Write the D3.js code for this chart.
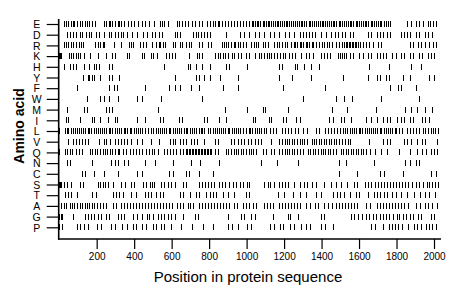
<!DOCTYPE html>
<html>
<head>
<meta charset="utf-8">
<script src="https://cdn.jsdelivr.net/npm/d3@7"></script>
<style>
  html, body { margin: 0; padding: 0; background: #fff; }
  svg { display: block; }
</style>
</head>
<body>
<div id="chart"></div>
<script>
// amino acid rows, top to bottom
const aminoAcids = ["E", "D", "R", "K", "H", "Y", "F", "W", "M", "I", "L", "V", "Q", "N", "C", "S", "T", "A", "G", "P"];
const xTicks = [200, 400, 600, 800, 1000, 1200, 1400, 1600, 1800, 2000];
const seqLength = 2032;

// positions of each residue type in the sequence
const posE = [28, 39, 50, 63, 74, 84, 98, 111, 124, 138, 151, 164, 180, 196, 242, 255, 266, 276, 287, 300, 314, 324, 335, 348, 370, 386, 404, 423, 442, 463, 484, 506, 538, 552, 564, 582, 629, 644, 660, 676, 692, 709, 725, 746, 767, 794, 805, 821, 832, 848, 858, 874, 890, 901, 917, 933, 949, 965, 981, 997, 1013, 1029, 1037, 1048, 1056, 1066, 1075, 1088, 1096, 1104, 1115, 1124, 1135, 1143, 1152, 1163, 1172, 1183, 1190, 1201, 1212, 1220, 1231, 1240, 1251, 1262, 1270, 1282, 1291, 1300, 1311, 1320, 1333, 1342, 1352, 1361, 1372, 1381, 1392, 1404, 1412, 1423, 1433, 1441, 1452, 1463, 1471, 1482, 1494, 1503, 1512, 1523, 1534, 1542, 1553, 1562, 1571, 1584, 1592, 1603, 1612, 1624, 1633, 1641, 1652, 1664, 1673, 1681, 1692, 1703, 1714, 1722, 1735, 1746, 1757, 1768, 1861, 1880, 1904, 1921, 1942, 1970, 1983, 1997, 2015];
const posD = [45, 58, 75, 90, 111, 125, 146, 160, 173, 200, 214, 244, 267, 280, 303, 318, 330, 344, 366, 392, 419, 449, 472, 499, 516, 534, 552, 618, 632, 645, 716, 730, 744, 760, 774, 790, 805, 894, 965, 991, 1018, 1045, 1071, 1098, 1125, 1151, 1178, 1205, 1231, 1258, 1285, 1301, 1317, 1333, 1349, 1370, 1402, 1429, 1455, 1477, 1493, 1514, 1530, 1552, 1573, 1648, 1669, 1696, 1712, 1733, 1754, 1770, 1824, 1840, 1861, 1877, 1904, 1925, 1957, 1973, 1994];
const posR = [27, 39, 52, 65, 76, 90, 106, 119, 129, 196, 210, 223, 235, 244, 294, 335, 374, 386, 398, 436, 452, 468, 499, 520, 533, 543, 555, 568, 609, 623, 645, 657, 680, 694, 707, 751, 766, 796, 814, 869, 882, 895, 906, 919, 933, 943, 957, 970, 983, 997, 1027, 1041, 1054, 1066, 1089, 1102, 1116, 1151, 1164, 1178, 1190, 1205, 1219, 1242, 1253, 1263, 1274, 1285, 1295, 1306, 1317, 1327, 1338, 1349, 1359, 1373, 1391, 1405, 1418, 1432, 1445, 1461, 1481, 1498, 1514, 1525, 1533, 1541, 1549, 1557, 1565, 1573, 1581, 1589, 1597, 1610, 1626, 1642, 1658, 1676, 1703, 1721, 1872, 1890, 1916, 1934, 1957, 1978, 1996, 2014];
const posK = [1, 4, 8, 12, 54, 67, 77, 90, 102, 116, 134, 166, 209, 250, 285, 299, 362, 374, 442, 454, 490, 502, 523, 574, 587, 606, 618, 693, 737, 751, 764, 835, 849, 862, 876, 888, 902, 926, 938, 956, 975, 1000, 1013, 1050, 1069, 1082, 1095, 1109, 1122, 1135, 1149, 1167, 1183, 1197, 1210, 1231, 1247, 1263, 1295, 1317, 1338, 1359, 1402, 1418, 1434, 1450, 1493, 1503, 1514, 1525, 1535, 1552, 1568, 1605, 1626, 1648, 1669, 1696, 1712, 1728, 1749, 1781, 1802, 1824, 1845, 1872, 1893, 1920, 1941, 1968, 1984, 2005];
const posH = [27, 58, 75, 90, 134, 161, 188, 200, 216, 271, 283, 564, 689, 702, 730, 767, 808, 894, 911, 1004, 1178, 1191, 1263, 1274, 1311, 1348, 1388, 1658, 1765, 1880, 1933];
const posY = [132, 154, 164, 178, 191, 223, 271, 287, 324, 623, 730, 751, 778, 810, 863, 956, 1173, 1246, 1348, 1517, 1653, 1696, 1717, 1749, 1765, 1835, 1877, 1976, 2002];
const posF = [95, 266, 296, 313, 463, 591, 618, 647, 707, 751, 876, 956, 1196, 1423, 1770, 1809, 1824, 1904];
const posW = [151, 218, 242, 266, 314, 419, 442, 547, 766, 1301, 1481, 1520, 1565, 1721, 1924];
const posM = [43, 134, 151, 250, 270, 287, 529, 885, 1007, 1089, 1103, 1226, 1459, 1538, 1694, 1848, 1881, 1913, 1952, 1992];
const posI = [38, 51, 111, 177, 190, 222, 263, 299, 311, 416, 459, 538, 559, 641, 658, 778, 794, 853, 894, 1036, 1048, 1121, 1133, 1199, 1214, 1268, 1285, 1445, 1463, 1507, 1520, 1561, 1641, 1669, 1698, 1733, 1752, 1770, 1805, 1826, 1845, 1872, 1891, 1939, 1957, 1978];
const posL = [2, 31, 42, 52, 63, 74, 87, 97, 108, 119, 132, 143, 154, 164, 175, 188, 199, 210, 220, 231, 244, 255, 266, 276, 287, 300, 311, 322, 332, 346, 356, 367, 378, 388, 402, 412, 423, 434, 447, 458, 478, 491, 505, 518, 529, 540, 551, 564, 575, 586, 596, 610, 620, 631, 642, 655, 666, 677, 687, 701, 711, 722, 733, 746, 757, 767, 778, 799, 810, 821, 834, 845, 855, 866, 879, 890, 901, 911, 925, 935, 946, 957, 970, 981, 1002, 1013, 1023, 1034, 1048, 1058, 1069, 1080, 1093, 1104, 1130, 1146, 1162, 1194, 1210, 1226, 1242, 1263, 1279, 1301, 1327, 1375, 1391, 1423, 1439, 1455, 1471, 1487, 1503, 1519, 1530, 1541, 1554, 1565, 1576, 1586, 1600, 1610, 1621, 1632, 1645, 1656, 1666, 1677, 1690, 1701, 1712, 1722, 1736, 1746, 1757, 1768, 1781, 1792, 1802, 1816, 1834, 1856, 1872, 1888, 1904, 1920, 1944, 1957, 1970, 1984, 1997, 2010, 2024];
const posV = [47, 74, 91, 109, 123, 138, 158, 216, 243, 255, 274, 298, 314, 333, 349, 367, 388, 418, 442, 494, 534, 595, 609, 623, 648, 662, 677, 707, 721, 737, 778, 832, 850, 921, 938, 956, 974, 991, 1009, 1027, 1045, 1063, 1082, 1135, 1178, 1191, 1205, 1218, 1231, 1245, 1258, 1271, 1285, 1298, 1311, 1325, 1349, 1362, 1375, 1389, 1402, 1415, 1429, 1442, 1455, 1469, 1482, 1498, 1514, 1530, 1546, 1557, 1658, 1729, 1752, 1770, 1840, 1861, 1882, 1914, 1936, 1957, 2016];
const posQ = [2, 31, 43, 58, 72, 90, 107, 125, 168, 180, 194, 207, 220, 234, 247, 260, 274, 287, 300, 314, 324, 342, 359, 378, 396, 413, 431, 446, 467, 484, 498, 511, 529, 564, 580, 596, 612, 628, 645, 661, 677, 687, 695, 703, 711, 719, 727, 735, 743, 751, 759, 767, 775, 783, 791, 799, 807, 815, 833, 848, 894, 906, 919, 933, 946, 959, 973, 986, 999, 1013, 1026, 1036, 1055, 1089, 1107, 1133, 1151, 1178, 1191, 1205, 1218, 1231, 1245, 1258, 1269, 1285, 1301, 1329, 1343, 1357, 1370, 1383, 1397, 1410, 1423, 1437, 1450, 1463, 1480, 1507, 1519, 1533, 1546, 1559, 1573, 1586, 1599, 1613, 1626, 1640, 1663, 1690, 1722, 1754, 1818, 1872, 1914, 1936, 1962, 1984, 2000, 2016];
const posN = [45, 59, 177, 278, 298, 315, 350, 372, 458, 516, 609, 707, 755, 858, 1081, 1164, 1276, 1496, 1531, 1680, 1850, 1872, 1904, 1925];
const posC = [123, 143, 189, 242, 318, 420, 447, 588, 612, 680, 694, 751, 822, 1498, 1591, 1712, 1736, 1836, 1987, 2014];
const posS = [2, 7, 12, 28, 42, 63, 115, 129, 209, 221, 235, 248, 262, 289, 335, 353, 387, 403, 449, 467, 487, 498, 508, 547, 564, 582, 600, 623, 662, 680, 751, 767, 783, 799, 815, 831, 858, 874, 890, 911, 929, 947, 965, 983, 1006, 1018, 1098, 1116, 1130, 1151, 1173, 1189, 1205, 1223, 1255, 1285, 1311, 1327, 1349, 1375, 1418, 1455, 1482, 1509, 1541, 1578, 1594, 1632, 1650, 1669, 1688, 1704, 1720, 1736, 1752, 1768, 1784, 1800, 1816, 1832, 1848, 1866, 1885, 1904, 1920, 1943, 1963, 1978, 1994, 2010, 2026];
const posT = [31, 49, 67, 97, 179, 200, 289, 307, 321, 342, 387, 414, 462, 479, 494, 520, 538, 559, 645, 662, 698, 734, 751, 787, 805, 822, 840, 876, 903, 938, 1001, 1013, 1169, 1201, 1250, 1285, 1322, 1375, 1402, 1466, 1485, 1503, 1525, 1552, 1589, 1605, 1648, 1685, 1701, 1717, 1736, 1754, 1776, 1802, 1829, 1856, 1898, 1930, 1952, 1978, 2010];
const posA = [13, 26, 40, 58, 71, 84, 98, 111, 124, 138, 151, 164, 178, 191, 204, 218, 235, 250, 289, 307, 335, 351, 367, 383, 396, 415, 431, 447, 463, 479, 495, 511, 527, 543, 559, 575, 591, 607, 629, 645, 661, 689, 703, 715, 751, 767, 783, 799, 815, 831, 847, 863, 879, 895, 911, 933, 949, 983, 1002, 1018, 1039, 1055, 1093, 1109, 1125, 1141, 1173, 1189, 1205, 1221, 1237, 1253, 1269, 1285, 1322, 1343, 1365, 1381, 1418, 1439, 1461, 1482, 1498, 1514, 1530, 1546, 1562, 1578, 1594, 1642, 1663, 1701, 1717, 1733, 1749, 1765, 1781, 1797, 1813, 1829, 1845, 1866, 1909, 1930, 1952, 1973, 1994, 2016];
const posG = [3, 10, 17, 74, 139, 155, 173, 191, 209, 227, 252, 268, 315, 333, 351, 399, 418, 446, 469, 484, 502, 529, 547, 564, 582, 600, 618, 662, 725, 743, 902, 974, 991, 1026, 1045, 1143, 1221, 1234, 1279, 1402, 1418, 1562, 1578, 1596, 1616, 1642, 1658, 1676, 1694, 1712, 1730, 1748, 1765, 1783, 1803, 1818, 1836, 1854, 1872, 1890, 1916, 1934, 1984, 2005];
const posP = [4, 15, 95, 116, 135, 154, 202, 226, 277, 299, 340, 362, 394, 415, 442, 466, 502, 518, 547, 564, 600, 653, 711, 769, 822, 906, 927, 956, 1007, 1026, 1130, 1151, 1183, 1199, 1234, 1253, 1293, 1317, 1341, 1402, 1423, 1466, 1669, 1690, 1728, 1765, 1781, 1797, 1813, 1832, 1866, 1898, 1914, 1933, 1962, 1978, 1994, 2013];

const positions = {
  E: posE, D: posD, R: posR, K: posK, H: posH, Y: posY, F: posF, W: posW, M: posM, I: posI,
  L: posL, V: posV, Q: posQ, N: posN, C: posC, S: posS, T: posT, A: posA, G: posG, P: posP
};

const w = 460;
const h = 299;
const left = 59.2;
const right = 440;
const bottom = 239;

const svg = d3.select("#chart")
  .append("svg")
  .attr("width", w)
  .attr("height", h)
  .style("font-family", "'Liberation Sans', Arial, sans-serif");

const xScale = d3.scaleLinear()
  .domain([0, seqLength])
  .range([left, right]);

const yScale = d3.scalePoint()
  .domain(aminoAcids)
  .range([24, 227.3]);

// residue marks
aminoAcids.forEach((aa) => {
  svg.append("g")
    .attr("shape-rendering", "crispEdges")
    .selectAll("line")
    .data(positions[aa])
    .enter()
    .append("line")
    .attr("x1", (d) => xScale(d))
    .attr("x2", (d) => xScale(d))
    .attr("y1", yScale(aa) - 3)
    .attr("y2", yScale(aa) + 3)
    .attr("stroke", "#000")
    .attr("stroke-width", 1);
});

// x axis
const xAxis = svg.append("g")
  .attr("transform", `translate(0,${bottom})`)
  .call(d3.axisBottom(xScale)
    .tickValues(xTicks)
    .tickFormat(d3.format("d"))
    .tickSize(10)
    .tickSizeOuter(0)
    .tickPadding(4));
xAxis.select(".domain").remove();
xAxis.selectAll(".tick line").attr("stroke", "#000").attr("stroke-width", 1.2);
xAxis.selectAll(".tick text")
  .attr("fill", "#000")
  .style("font-size", "10px");

svg.append("line")
  .attr("x1", 58)
  .attr("x2", 441)
  .attr("y1", bottom)
  .attr("y2", bottom)
  .attr("stroke", "#000")
  .attr("stroke-width", 1.6);

// y axis
const yAxis = svg.append("g")
  .attr("transform", `translate(${left - 0.5},0)`)
  .call(d3.axisLeft(yScale).tickSize(12).tickSizeOuter(0));
yAxis.select(".domain").remove();
yAxis.selectAll(".tick line").attr("stroke", "#000").attr("stroke-width", 1.2);
yAxis.selectAll(".tick text")
  .attr("x", -22)
  .attr("dy", "0.36em")
  .attr("text-anchor", "middle")
  .attr("fill", "#000")
  .style("font-size", "10.5px");

svg.append("line")
  .attr("x1", 58.7)
  .attr("x2", 58.7)
  .attr("y1", 19)
  .attr("y2", bottom + 0.8)
  .attr("stroke", "#000")
  .attr("stroke-width", 1.6);

// axis titles
svg.append("text")
  .attr("x", 248)
  .attr("y", 282)
  .attr("text-anchor", "middle")
  .style("font-size", "15px")
  .text("Position in protein sequence");

svg.append("text")
  .attr("transform", "translate(24,126) rotate(-90)")
  .attr("text-anchor", "middle")
  .style("font-size", "14px")
  .style("font-weight", "bold")
  .text("Amino acid");
</script>
</body>
</html>
